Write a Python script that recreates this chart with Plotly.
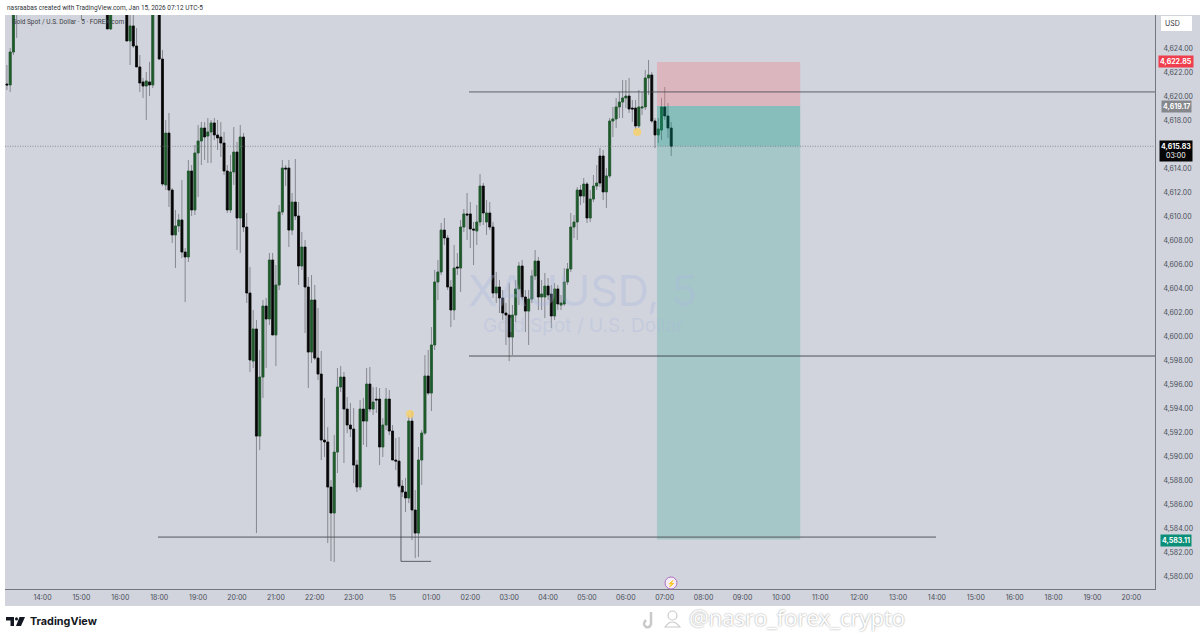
import plotly.graph_objects as go

# ---- data ----
bar_number = [0,1,2,3,23,31,32] + list(range(37,46)) + list(range(47,206))
opens = [4621.01,4620.93,4623.67,4628.00,4628.00,4628.00,4625.59,
 4628.00,4624.59,4625.84,4624.17,4622.43,4621.18,4620.84,4621.18,4620.93,
 4628.00,4623.09,4612.61,4616.93,4612.19,4608.45,4609.20,4609.70,4607.03,4606.62,
 4613.77,4610.53,4615.27,4616.27,4617.35,4616.68,4617.02,4617.77,4616.77,4616.60,
 4616.10,4613.77,4610.53,4613.69,4615.35,4609.86,4616.60,4609.11,4603.62,4597.96,
 4600.63,4591.72,4596.63,4602.54,4601.46,4606.37,4600.13,4604.29,4610.36,4614.02,
 4614.02,4608.86,4611.19,4610.03,4605.87,4607.45,4604.12,4598.71,4603.04,4598.21,
 4596.88,4591.39,4591.23,4587.48,4585.32,4590.39,4595.80,4596.63,4593.97,4592.64,
 4592.31,4589.31,4587.48,4593.97,4592.97,4596.05,4593.97,4594.80,4594.80,4590.81,
 4592.64,4594.80,4592.14,4589.73,4589.64,4587.56,4587.07,4586.57,4592.97,4585.57,
 4583.65,4589.73,4591.97,4596.72,4595.30,4599.30,4604.54,4605.37,4608.86,4608.20,
 4604.12,4602.21,4605.79,4605.70,4609.11,4610.20,4610.20,4608.95,4608.78,4609.53,
 4612.52,4609.53,4610.28,4609.11,4603.62,4604.12,4603.21,4601.96,4601.79,4599.96,
 4601.79,4603.96,4605.87,4603.29,4602.12,4603.12,4605.04,4606.28,4603.29,4603.29,
 4604.20,4603.54,4601.71,4603.96,4602.62,4602.71,4604.54,4605.62,4609.11,4609.53,
 4612.19,4611.69,4612.69,4609.86,4611.44,4612.52,4615.02,4615.02,4612.03,4613.36,
 4617.93,4618.10,4619.10,4619.51,4619.85,4620.01,4619.01,4619.01,4617.52,4619.01,
 4619.10,4621.51,4621.76,4617.93,4616.77,4617.18,4619.10,4618.35,4617.35]
highs = [4622.59,4624.01,4628.50,4628.50,4628.50,4628.50,4628.50,
 4628.50,4626.75,4626.75,4625.67,4623.42,4621.51,4622.01,4622.84,4628.50,
 4628.50,4623.84,4618.02,4618.60,4612.36,4610.53,4610.20,4613.02,4607.37,4614.69,
 4614.27,4615.94,4617.60,4617.85,4617.85,4618.18,4618.02,4618.18,4618.02,4617.85,
 4617.02,4614.27,4615.10,4617.43,4616.19,4617.60,4616.93,4610.28,4605.79,4602.21,
 4601.38,4598.88,4603.04,4603.21,4606.95,4606.95,4605.95,4610.94,4614.69,4614.27,
 4614.69,4611.94,4614.77,4611.19,4608.70,4608.03,4604.95,4605.12,4604.29,4602.37,
 4598.80,4594.89,4592.47,4588.06,4591.81,4597.38,4597.55,4597.05,4594.97,4594.47,
 4594.05,4589.73,4594.72,4594.89,4597.38,4597.47,4595.80,4595.80,4595.72,4593.22,
 4595.72,4595.55,4592.64,4591.56,4591.64,4588.06,4588.23,4593.47,4593.80,4587.23,
 4590.81,4592.22,4598.46,4598.88,4600.79,4605.54,4606.37,4609.45,4609.86,4608.45,
 4604.70,4607.62,4606.95,4609.70,4610.61,4611.94,4611.19,4609.53,4610.94,4613.52,
 4612.77,4611.36,4611.19,4609.53,4605.37,4604.70,4603.87,4602.79,4604.45,4602.62,
 4604.70,4606.20,4606.37,4603.87,4603.87,4605.54,4607.20,4606.62,4604.70,4605.29,
 4604.87,4604.29,4604.45,4604.29,4603.46,4605.70,4606.12,4610.28,4610.11,4612.44,
 4612.61,4613.19,4612.86,4612.19,4613.44,4614.27,4615.69,4615.52,4614.02,4618.18,
 4619.10,4619.85,4620.35,4621.34,4621.34,4621.51,4619.68,4619.68,4620.51,4620.35,
 4622.18,4623.01,4622.01,4618.18,4618.18,4619.85,4620.76,4619.43,4617.85]
lows = [4620.51,4620.35,4623.42,4624.84,4626.34,4625.59,4625.50,
 4624.59,4622.59,4624.01,4622.43,4620.35,4619.85,4618.02,4620.01,4620.68,
 4623.01,4612.52,4612.19,4610.78,4607.78,4605.70,4608.70,4606.53,4602.87,4606.20,
 4610.03,4610.11,4611.61,4614.27,4614.69,4614.44,4614.44,4616.35,4615.52,4614.94,
 4613.44,4610.28,4610.28,4612.61,4607.20,4606.95,4608.70,4602.79,4597.05,4597.38,
 4583.65,4590.56,4594.89,4597.38,4600.96,4600.13,4597.55,4603.87,4610.11,4612.52,
 4607.45,4608.45,4609.70,4604.29,4605.54,4600.29,4595.72,4597.80,4598.05,4596.38,
 4589.73,4589.98,4582.82,4581.32,4581.24,4588.65,4595.39,4589.48,4591.97,4591.64,
 4587.81,4587.07,4587.23,4590.98,4590.81,4593.72,4593.47,4593.64,4589.31,4589.98,
 4592.22,4591.81,4589.73,4588.90,4587.40,4586.65,4585.40,4586.15,4583.07,4581.57,
 4581.66,4587.65,4591.81,4595.14,4593.80,4598.88,4603.04,4605.12,4607.62,4603.87,
 4600.79,4601.38,4605.12,4603.71,4608.70,4608.03,4607.37,4605.95,4607.62,4609.20,
 4609.28,4608.45,4608.86,4603.21,4602.79,4601.96,4601.38,4599.30,4597.96,4598.46,
 4601.21,4602.62,4603.04,4600.38,4599.30,4602.79,4604.70,4602.21,4602.21,4601.54,
 4603.04,4600.71,4601.38,4602.21,4602.21,4602.54,4604.29,4605.37,4608.20,4608.03,
 4610.94,4611.11,4609.45,4609.53,4611.19,4612.19,4612.44,4611.36,4610.69,4613.19,
 4616.60,4617.35,4618.18,4618.18,4619.01,4618.60,4617.85,4617.18,4617.35,4618.43,
 4618.85,4620.10,4617.77,4615.69,4616.10,4616.35,4618.02,4616.52,4615.02]
closes = [4620.93,4623.67,4628.00,4627.50,4627.50,4625.59,4628.00,
 4624.59,4625.84,4624.17,4622.43,4621.09,4620.84,4621.26,4620.93,4628.00,
 4623.09,4612.69,4616.93,4612.19,4608.45,4609.20,4609.70,4607.03,4606.62,4613.77,
 4610.53,4615.27,4616.27,4617.35,4616.60,4617.02,4617.77,4616.77,4616.52,4616.10,
 4613.77,4610.53,4613.69,4615.35,4609.86,4616.60,4609.11,4603.62,4598.05,4600.63,
 4591.72,4596.63,4602.54,4601.46,4606.37,4600.13,4604.29,4610.36,4614.02,4613.94,
 4608.86,4611.19,4610.03,4605.87,4607.45,4604.12,4598.71,4603.04,4598.21,4596.88,
 4591.39,4591.23,4587.48,4585.32,4590.39,4595.80,4596.63,4593.97,4592.64,4592.31,
 4589.31,4587.48,4593.97,4592.97,4596.05,4593.97,4594.55,4594.72,4590.81,4592.64,
 4594.80,4592.14,4589.73,4589.64,4587.56,4587.07,4586.57,4592.97,4585.57,4583.65,
 4589.73,4591.97,4596.72,4595.30,4599.30,4604.54,4605.37,4608.86,4608.20,4604.12,
 4602.21,4605.70,4605.70,4609.11,4610.20,4610.11,4608.95,4608.86,4609.53,4612.52,
 4610.28,4610.28,4609.11,4603.62,4604.12,4603.21,4601.96,4601.79,4599.96,4601.79,
 4603.96,4605.87,4603.29,4602.12,4603.12,4605.04,4606.28,4603.29,4603.54,4604.20,
 4603.46,4601.71,4603.96,4602.71,4602.79,4604.54,4605.62,4609.11,4609.53,4612.19,
 4611.69,4612.69,4609.86,4611.44,4612.52,4612.77,4612.77,4612.03,4613.36,4617.93,
 4618.10,4619.10,4619.51,4619.85,4620.01,4618.93,4618.93,4617.52,4619.10,4619.10,
 4621.51,4621.76,4617.93,4616.77,4617.27,4619.10,4618.35,4617.35,4615.83]

time_tick_bars = [11,23,35,47,59,71,83,95,107,119,131,143,155,167,179,191,203,215,227,239,251,263,275,287,299,311,323,335,347]
time_tick_labels = ["14:00","15:00","16:00","18:00","19:00","20:00","21:00","22:00","23:00","15","01:00","02:00",
                    "03:00","04:00","05:00","06:00","07:00","08:00","09:00","10:00","11:00","12:00","13:00",
                    "14:00","15:00","16:00","18:00","19:00","20:00"]
price_ticks = [4580,4582,4584,4586,4588,4590,4592,4594,4596,4598,4600,4602,4604,4606,4608,4610,4612,4614,4618,4620,4622,4624]

stop_price, entry_price, target_price, last_price = 4622.85, 4619.17, 4583.11, 4615.83
position_bars = [200.6, 244.8]
level_upper, level_middle, level_lower, level_box = 4620.35, 4598.38, 4583.32, 4581.3
signal_bars, signal_prices = [194.5, 124.4], [4617.02, 4593.55]

# ---- layout helpers: pixel to paper fraction ----
L, R, T, B = 5, 1155, 15, 589
def px(x): return (x - L) / (R - L)
def py(y): return (B - y) / (B - T)

GREEN = "#1d5c2a"
BG = "#d1d4dc"
FONT = "Roboto, Inter, sans-serif"

body_top = [max(o, c) for o, c in zip(opens, closes)]
body_bottom = [min(o, c) for o, c in zip(opens, closes)]

fig = go.Figure()
# thin gray wicks
fig.add_trace(go.Candlestick(
    x=bar_number, open=opens, high=highs, low=lows, close=closes,
    increasing=dict(line=dict(color="#72757c", width=0.8), fillcolor="#72757c"),
    decreasing=dict(line=dict(color="#72757c", width=0.8), fillcolor="#72757c"),
    whiskerwidth=0, hoverinfo="skip", showlegend=False))
# solid bodies on top
fig.add_trace(go.Candlestick(
    x=bar_number, open=opens, high=body_top, low=body_bottom, close=closes,
    increasing=dict(line=dict(color=GREEN, width=0.6), fillcolor=GREEN),
    decreasing=dict(line=dict(color="#060606", width=0.6), fillcolor="#060606"),
    whiskerwidth=0, hoverinfo="skip", showlegend=False))
fig.add_trace(go.Scatter(x=signal_bars, y=signal_prices, mode="markers", hoverinfo="skip", showlegend=False,
    marker=dict(symbol="circle", size=8, color="rgba(250,208,100,0.8)")))

WM = "#c9c9c9"
shapes = [
    dict(type="rect", xref="paper", yref="paper", x0=0, x1=px(1200), y0=py(606), y1=1, fillcolor=BG, line_width=0, layer="below"),
    dict(type="rect", x0=position_bars[0], x1=position_bars[1], y0=entry_price, y1=stop_price, fillcolor="rgba(242,120,135,0.33)", line_width=0, layer="above"),
    dict(type="rect", x0=position_bars[0], x1=position_bars[1], y0=last_price, y1=entry_price, fillcolor="rgba(8,153,129,0.37)", line_width=0, layer="above"),
    dict(type="rect", x0=position_bars[0], x1=position_bars[1], y0=target_price, y1=last_price, fillcolor="rgba(8,153,129,0.22)", line_width=0, layer="above"),
    dict(type="line", x0=142.6, x1=354.3, y0=level_upper, y1=level_upper, line=dict(color="#3f4149", width=0.8)),
    dict(type="line", x0=142.6, x1=354.3, y0=level_middle, y1=level_middle, line=dict(color="#2f3138", width=0.8)),
    dict(type="line", x0=46.6, x1=286.7, y0=level_lower, y1=level_lower, line=dict(color="#55565f", width=1)),
    dict(type="line", x0=121.6, x1=121.6, y0=4587.2, y1=level_box, line=dict(color="#3f4149", width=0.8)),
    dict(type="line", x0=121.6, x1=130.9, y0=level_box, y1=level_box, line=dict(color="#3f4149", width=0.8)),
    dict(type="line", xref="paper", x0=0, x1=1, y0=last_price, y1=last_price, line=dict(color="#70737c", width=0.7, dash="1px,1.5px")),
    dict(type="rect", xref="paper", yref="paper", x0=px(1161), x1=px(1192), y0=py(31), y1=py(16), fillcolor="white", line_width=0),
    dict(type="circle", xref="paper", yref="paper", x0=px(665), x1=px(677), y0=py(589), y1=py(577), fillcolor="#f4ecf6", line=dict(color="#b06fc4", width=1)),
    dict(type="path", xref="paper", yref="paper", line_width=0, fillcolor="#131722",
         path=f"M {px(6)},{py(617)} L {px(14)},{py(617)} L {px(14)},{py(626)} L {px(10.5)},{py(626)} L {px(10.5)},{py(620.5)} L {px(6)},{py(620.5)} Z"),
    dict(type="circle", xref="paper", yref="paper", x0=px(15), x1=px(18), y0=py(620.5), y1=py(617.3), fillcolor="#131722", line_width=0),
    dict(type="path", xref="paper", yref="paper", line_width=0, fillcolor="#131722",
         path=f"M {px(19.5)},{py(617)} L {px(25)},{py(617)} L {px(21)},{py(626)} L {px(16)},{py(626)} Z"),
    dict(type="circle", xref="paper", yref="paper", x0=px(668), x1=px(677), y0=py(620), y1=py(611), fillcolor="white", line=dict(color=WM, width=1.2)),
    dict(type="path", xref="paper", yref="paper", fillcolor="white", line=dict(color=WM, width=1.2),
         path=f"M {px(665)},{py(627)} Q {px(672)},{py(617)} {px(680)},{py(627)} Z"),
    dict(type="path", xref="paper", yref="paper", line=dict(color=WM, width=2.5),
         path=f"M {px(651)},{py(612)} L {px(651)},{py(624)} Q {px(650)},{py(628)} {px(646)},{py(627)} Q {px(642)},{py(624)} {px(646)},{py(620)}"),
]

def label(text, x, y, size=7, color="#3f4350", **kw):
    return dict(text=text, xref="paper", yref="paper", x=px(x), y=py(y), showarrow=False,
                font=dict(size=size, color=color, family=kw.pop("family", "Inter, Roboto, sans-serif")), xanchor=kw.pop("xanchor", "center"), yanchor="middle", **kw)

def price_tag(text, y, bg):
    return label(f"<b>{text}</b>", 1176, y, size=7, color="white", bgcolor=bg, borderpad=1)

annotations = [
    label("nasraabas created with TradingView.com, Jan 15, 2026 07:12 UTC-5", 5, 8, size=6.5, color="#2f3238", xanchor="left", family=FONT),
    label("Gold Spot / U.S. Dollar · 5 · FOREX.com", 10, 22, size=6.5, color="#3a3d45", xanchor="left", family=FONT),
    label("XAUUSD, 5", 583, 290, size=43, color="rgba(170,182,225,0.33)"),
    label("Gold Spot / U.S. Dollar", 583, 325, size=19, color="rgba(170,182,225,0.33)"),
    label("USD", 1172, 23.5, size=7, color="#30333b"),
    price_tag("4,622.85", 62, "#ef3f4e"),
    price_tag("4,619.17", 106.5, "#85878c"),
    label("<b>4,615.83</b><br>03:00", 1176, 151, size=7, color="white", bgcolor="#050505", borderpad=1),
    price_tag("4,583.11", 540, "#0b8f78"),
    label("⚡", 671, 583, size=7, color="#a24bbd"),
    label("<b>TradingView</b>", 28, 621.5, size=10.8, color="#131722", xanchor="left"),
    dict(text="@nasro_forex_crypto", xref="paper", yref="paper", x=px(687), y=py(617), showarrow=False, xanchor="left", yanchor="middle",
         font=dict(size=22, color="white", family="Open Sans, sans-serif", shadow="0 0 2px #8f8f8f")),
]

fig.update_layout(
    width=1200, height=638, autosize=False,
    margin=dict(l=L, r=1200 - R, t=T, b=638 - B),
    paper_bgcolor="white", plot_bgcolor=BG, showlegend=False,
    boxgap=0.12, shapes=shapes, annotations=annotations,
    xaxis=dict(range=[-0.6, 354.3], tickmode="array", tickvals=time_tick_bars, ticktext=time_tick_labels,
               showgrid=False, zeroline=False, rangeslider=dict(visible=False), ticks="", ticklabelstandoff=2,
               showline=True, linecolor="#74767e", linewidth=1, tickfont=dict(size=7, color="#4a4e5a", family="Inter, Roboto, sans-serif")),
    yaxis=dict(range=[4579.0, 4626.75], side="right", tickmode="array", tickvals=price_ticks, tickformat=",.2f",
               showgrid=False, zeroline=False, ticks="", ticklabelstandoff=6, showline=True, linecolor="#74767e", linewidth=1,
               tickfont=dict(size=7, color="#4a4e5a", family="Inter, Roboto, sans-serif")),
)

fig.write_html("out.html", post_script="document.body.style.margin='0';", config=dict(displayModeBar=False))
